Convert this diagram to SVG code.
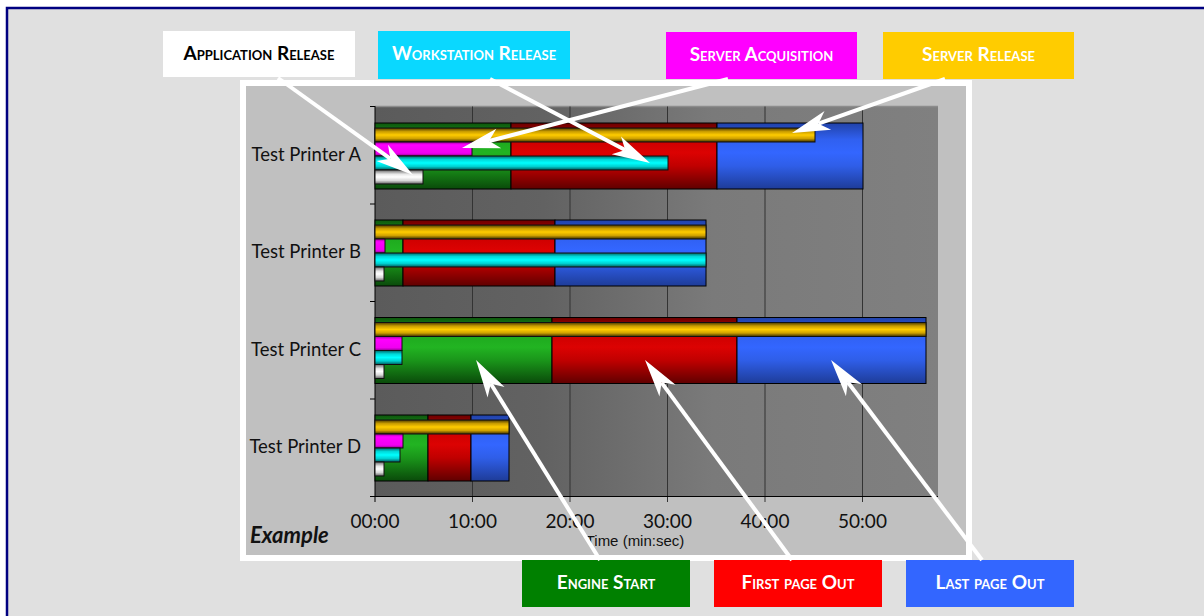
<svg xmlns="http://www.w3.org/2000/svg" width="1204" height="616" viewBox="0 0 1204 616">
<defs>
<style>
.lbl{font-family:Lato,"Open Sans","DejaVu Sans",sans-serif;font-weight:700;font-size:19px;font-variant:small-caps;text-anchor:middle}
.cat{font-family:Lato,"Open Sans","DejaVu Sans",sans-serif;font-size:18.5px;fill:#111;text-anchor:end}
.tick{font-family:Lato,"Open Sans","DejaVu Sans",sans-serif;font-size:19px;fill:#111;text-anchor:middle}
.seg{stroke:#000;stroke-width:1}
.thin{stroke:#111;stroke-width:1}
.grid{stroke:#333;stroke-width:1}
.arrow{stroke:#fff;stroke-width:4;fill:none;marker-end:url(#ah)}
</style>
<linearGradient id="plotbg" x1="0" y1="0" x2="1" y2="0">
<stop offset="0" stop-color="#5b5b5b"/><stop offset="0.3" stop-color="#626262"/><stop offset="0.6" stop-color="#7a7a7a"/><stop offset="1" stop-color="#808080"/>
</linearGradient>
<linearGradient id="gG" x1="0" y1="0" x2="0" y2="1">
<stop offset="0" stop-color="#0d550d"/><stop offset="0.25" stop-color="#1ea81e"/><stop offset="0.45" stop-color="#22b422"/><stop offset="0.65" stop-color="#1a951a"/><stop offset="1" stop-color="#0a4a0a"/>
</linearGradient>
<linearGradient id="gR" x1="0" y1="0" x2="0" y2="1">
<stop offset="0" stop-color="#6a0000"/><stop offset="0.25" stop-color="#cc0000"/><stop offset="0.45" stop-color="#dc0202"/><stop offset="0.65" stop-color="#c00000"/><stop offset="1" stop-color="#600000"/>
</linearGradient>
<linearGradient id="gB" x1="0" y1="0" x2="0" y2="1">
<stop offset="0" stop-color="#2142a8"/><stop offset="0.25" stop-color="#3060f0"/><stop offset="0.45" stop-color="#3366ff"/><stop offset="0.65" stop-color="#2f5ee8"/><stop offset="1" stop-color="#1e3c98"/>
</linearGradient>
<linearGradient id="gY" x1="0" y1="0" x2="0" y2="1">
<stop offset="0" stop-color="#4a3800"/><stop offset="0.25" stop-color="#c89c00"/><stop offset="0.5" stop-color="#ffcc00"/><stop offset="0.75" stop-color="#d0a200"/><stop offset="1" stop-color="#3c2e00"/>
</linearGradient>
<linearGradient id="gM" x1="0" y1="0" x2="0" y2="1">
<stop offset="0" stop-color="#a000a0"/><stop offset="0.2" stop-color="#ff00ff"/><stop offset="0.8" stop-color="#f000f0"/><stop offset="1" stop-color="#900090"/>
</linearGradient>
<linearGradient id="gC" x1="0" y1="0" x2="0" y2="1">
<stop offset="0" stop-color="#006868"/><stop offset="0.25" stop-color="#00d8d8"/><stop offset="0.5" stop-color="#00ffff"/><stop offset="0.75" stop-color="#00d0d0"/><stop offset="1" stop-color="#005a5a"/>
</linearGradient>
<linearGradient id="gW" x1="0" y1="0" x2="0" y2="1">
<stop offset="0" stop-color="#6a6a6a"/><stop offset="0.3" stop-color="#e8e8e8"/><stop offset="0.5" stop-color="#ffffff"/><stop offset="0.75" stop-color="#d8d8d8"/><stop offset="1" stop-color="#606060"/>
</linearGradient>
<marker id="ah" markerUnits="userSpaceOnUse" markerWidth="60" markerHeight="30" refX="0" refY="0" viewBox="-15 -15 60 30" orient="auto" overflow="visible">
<path d="M28,0 L-10,-10 L0,0 L-10,10 Z" fill="#fff"/>
</marker>
</defs>

<rect x="0" y="0" width="1204" height="616" fill="#ffffff"/>
<rect x="7" y="8" width="1210" height="620" fill="#e0e0e0" stroke="#000080" stroke-width="2.5"/>

<g id="chart">
<rect x="243" y="83" width="726" height="475" fill="#c0c0c0" stroke="#ffffff" stroke-width="6"/>
<rect x="375" y="106.5" width="563" height="390" fill="url(#plotbg)"/>
<line x1="375" y1="106.5" x2="938" y2="106.5" stroke="#8c8c8c" stroke-width="1.5"/>
<g class="grid">
<line x1="472.5" y1="106.5" x2="472.5" y2="502"/>
<line x1="570" y1="106.5" x2="570" y2="502"/>
<line x1="667.5" y1="106.5" x2="667.5" y2="502"/>
<line x1="765" y1="106.5" x2="765" y2="502"/>
<line x1="862.5" y1="106.5" x2="862.5" y2="502"/>
</g>
<g stroke="#000" stroke-width="1">
<line x1="375" y1="106" x2="375" y2="502"/>
<line x1="370" y1="496.5" x2="938" y2="496.5"/>
<line x1="370" y1="106.5" x2="375" y2="106.5"/>
<line x1="370" y1="204" x2="375" y2="204"/>
<line x1="370" y1="301.5" x2="375" y2="301.5"/>
<line x1="370" y1="399" x2="375" y2="399"/>
</g>

<g id="printerA">
<rect class="seg" x="375" y="123" width="136" height="66" fill="url(#gG)"/>
<rect class="seg" x="511" y="123" width="206" height="66" fill="url(#gR)"/>
<rect class="seg" x="717" y="123" width="146" height="66" fill="url(#gB)"/>
<rect class="thin" x="375" y="128" width="440" height="14" fill="url(#gY)"/>
<rect class="thin" x="375" y="142" width="97" height="14" fill="url(#gM)"/>
<rect class="thin" x="375" y="156" width="293" height="14" fill="url(#gC)"/>
<rect class="thin" x="375" y="170" width="48" height="14" fill="url(#gW)"/>
</g>
<g id="printerB">
<rect class="seg" x="375" y="220" width="28" height="66" fill="url(#gG)"/>
<rect class="seg" x="403" y="220" width="152" height="66" fill="url(#gR)"/>
<rect class="seg" x="555" y="220" width="151" height="66" fill="url(#gB)"/>
<rect class="thin" x="375" y="225" width="331" height="14" fill="url(#gY)"/>
<rect class="thin" x="375" y="239" width="10" height="14" fill="url(#gM)"/>
<rect class="thin" x="375" y="253" width="331" height="14" fill="url(#gC)"/>
<rect class="thin" x="375" y="267" width="9" height="14" fill="url(#gW)"/>
</g>
<g id="printerC">
<rect class="seg" x="375" y="317.5" width="177" height="66" fill="url(#gG)"/>
<rect class="seg" x="552" y="317.5" width="185" height="66" fill="url(#gR)"/>
<rect class="seg" x="737" y="317.5" width="189" height="66" fill="url(#gB)"/>
<rect class="thin" x="375" y="322.5" width="551" height="14" fill="url(#gY)"/>
<rect class="thin" x="375" y="336.5" width="27" height="14" fill="url(#gM)"/>
<rect class="thin" x="375" y="350.5" width="27" height="14" fill="url(#gC)"/>
<rect class="thin" x="375" y="364.5" width="9" height="14" fill="url(#gW)"/>
</g>
<g id="printerD">
<rect class="seg" x="375" y="415" width="53" height="66" fill="url(#gG)"/>
<rect class="seg" x="428" y="415" width="43" height="66" fill="url(#gR)"/>
<rect class="seg" x="471" y="415" width="38" height="66" fill="url(#gB)"/>
<rect class="thin" x="375" y="420" width="134" height="14" fill="url(#gY)"/>
<rect class="thin" x="375" y="434" width="28" height="14" fill="url(#gM)"/>
<rect class="thin" x="375" y="448" width="25" height="14" fill="url(#gC)"/>
<rect class="thin" x="375" y="462" width="9" height="14" fill="url(#gW)"/>
</g>

<g id="axis-labels">
<text class="cat" x="361" y="161">Test Printer A</text>
<text class="cat" x="361" y="258">Test Printer B</text>
<text class="cat" x="361" y="356">Test Printer C</text>
<text class="cat" x="361" y="453">Test Printer D</text>
<text class="tick" x="375" y="528">00:00</text>
<text class="tick" x="472.5" y="528">10:00</text>
<text class="tick" x="570" y="528">20:00</text>
<text class="tick" x="667.5" y="528">30:00</text>
<text class="tick" x="765" y="528">40:00</text>
<text class="tick" x="862.5" y="528">50:00</text>
<text x="635" y="546" font-family="'Liberation Sans',Arial,sans-serif" font-size="15" fill="#111" text-anchor="middle">Time (min:sec)</text>
<text x="250" y="543" font-family="Lato,'Open Sans',sans-serif" font-size="22" font-weight="700" font-style="italic" fill="#111">Example</text>
</g>
</g>

<g id="label-application-release">
<rect x="163" y="31" width="192" height="46" fill="#ffffff"/>
<text class="lbl" x="259" y="60" fill="#000">Application Release</text>
</g>
<g id="label-workstation-release">
<rect x="378" y="31" width="192" height="48" fill="#0ad8ff"/>
<text class="lbl" x="474" y="60" fill="#fff">Workstation Release</text>
</g>
<g id="label-server-acquisition">
<rect x="666" y="32" width="191" height="47" fill="#ff00ff"/>
<text class="lbl" x="761.5" y="61" fill="#fff">Server Acquisition</text>
</g>
<g id="label-server-release">
<rect x="883" y="32" width="191" height="47" fill="#ffcc00"/>
<text class="lbl" x="978.5" y="61" fill="#fff">Server Release</text>
</g>
<g id="label-engine-start">
<rect x="522" y="560" width="168" height="47" fill="#008000"/>
<text class="lbl" x="606" y="589" fill="#fff">Engine Start</text>
</g>
<g id="label-first-page-out">
<rect x="714" y="560" width="168" height="47" fill="#ff0000"/>
<text class="lbl" x="798" y="589" fill="#fff">First page Out</text>
</g>
<g id="label-last-page-out">
<rect x="906" y="560" width="168" height="47" fill="#3366ff"/>
<text class="lbl" x="990" y="589" fill="#fff">Last page Out</text>
</g>

<g id="connectors">
<line class="arrow" x1="278" y1="78" x2="390.3" y2="158.7"/>
<line class="arrow" x1="490" y1="79" x2="625.2" y2="150"/>
<line class="arrow" x1="728" y1="79" x2="489.1" y2="141"/>
<line class="arrow" x1="945" y1="79" x2="818.4" y2="123.7"/>
<line class="arrow" x1="600" y1="560" x2="490.8" y2="383.8"/>
<line class="arrow" x1="792" y1="560" x2="661.6" y2="382.6"/>
<line class="arrow" x1="982" y1="560" x2="847.9" y2="382.3"/>
</g>
</svg>
